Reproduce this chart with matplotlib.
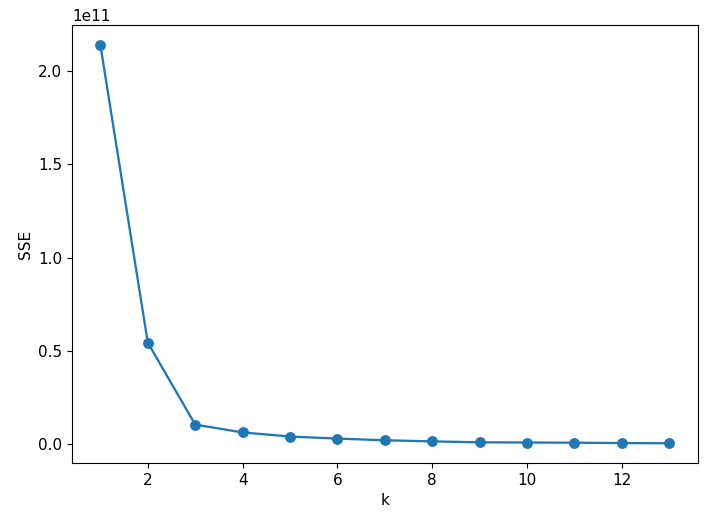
import matplotlib
matplotlib.use("Agg")
import matplotlib.pyplot as plt

# elbow curve values
k_values = [1, 2, 3, 4, 5, 6, 7, 8, 9, 10, 11, 12, 13]
sse = [2.141e11, 0.545e11, 0.105e11, 0.063e11, 0.041e11, 0.030e11, 0.021e11,
       0.015e11, 0.010e11, 0.009e11, 0.008e11, 0.006e11, 0.005e11]

fig = plt.figure(figsize=(7.12, 5.21), dpi=100)
ax = fig.add_axes([0.101, 0.111, 0.879, 0.841])
ax.plot(k_values, sse, marker="o", color="#1f77b4", markersize=6.8, linewidth=1.65)
ax.set_xlabel("k", fontsize=11)
ax.set_ylabel("SSE", fontsize=11)
ax.tick_params(labelsize=11)
ax.yaxis.get_offset_text().set_fontsize(11)
fig.savefig("out.png", dpi=100)
